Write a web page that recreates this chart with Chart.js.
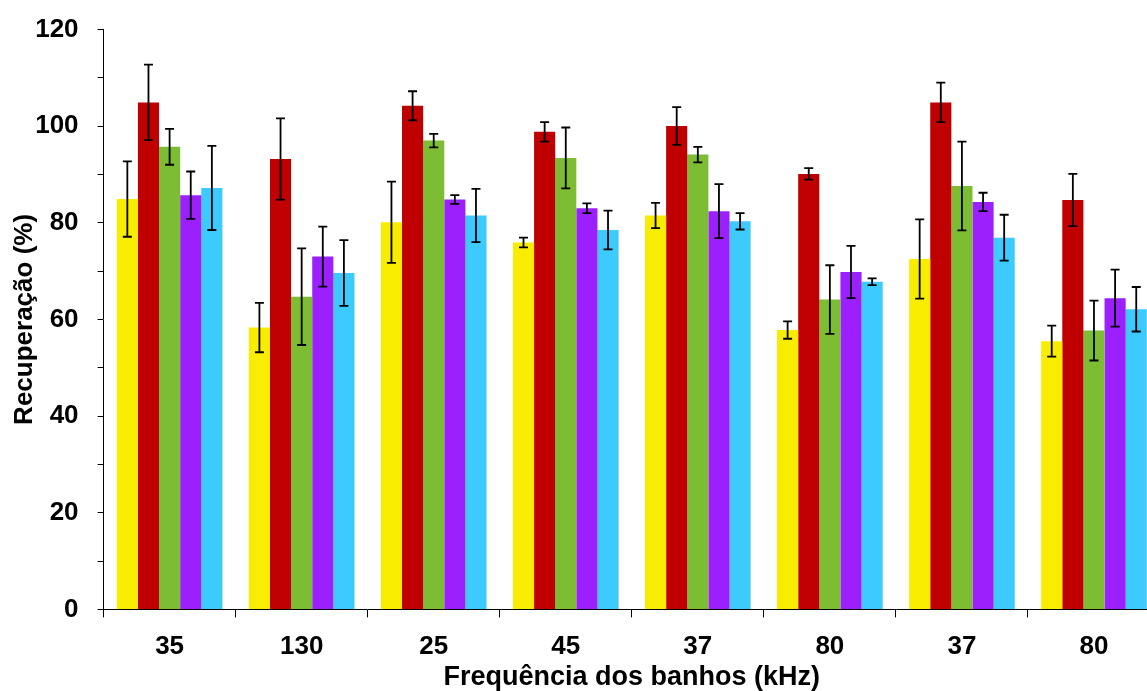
<!DOCTYPE html>
<html>
<head>
<meta charset="utf-8">
<script src="https://cdn.jsdelivr.net/npm/chart.js@4/dist/chart.umd.min.js"></script>
<style>
  html, body { margin: 0; padding: 0; overflow: hidden; background: #fff; }
  #wrap { position: absolute; left: 0; top: 0; width: 1162px; height: 691px; }
</style>
</head>
<body>
<div id="wrap"><canvas id="chart"></canvas></div>
<script>
// frequencies of the ultrasonic baths (x categories)
const categories = ['35', '130', '25', '45', '37', '80', '37', '80'];

// recovery (%) per series, with error bar half-widths
const serie1 = [84.9, 58.3, 80.1, 75.9, 81.5, 57.8, 72.5, 55.5];
const erro1 = [7.8, 5.1, 8.4, 1.0, 2.6, 1.8, 8.2, 3.2];
const serie2 = [104.9, 93.2, 104.2, 98.8, 100.0, 90.1, 104.9, 84.7];
const erro2 = [7.8, 8.4, 3.0, 2.0, 3.9, 1.2, 4.1, 5.4];
const serie3 = [95.7, 64.7, 97.0, 93.4, 94.1, 64.1, 87.6, 57.7];
const erro3 = [3.7, 10.0, 1.4, 6.3, 1.6, 7.1, 9.2, 6.2];
const serie4 = [85.7, 73.0, 84.8, 83.0, 82.4, 69.8, 84.3, 64.4];
const erro4 = [4.9, 6.2, 0.9, 1.0, 5.6, 5.4, 1.9, 5.9];
const serie5 = [87.2, 69.6, 81.5, 78.5, 80.3, 67.8, 76.9, 62.1];
const erro5 = [8.7, 6.8, 5.5, 4.0, 1.7, 0.7, 4.75, 4.6];

const yTicks = [0, 20, 40, 60, 80, 100, 120];

const colors = ['#f8ec00', '#c00000', '#7cbd33', '#9c1ffe', '#3dcbff'];
const series = [serie1, serie2, serie3, serie4, serie5];
const errors = [erro1, erro2, erro3, erro4, erro5];

// draw the black error bars on top of each bar
const errorBars = {
  id: 'errorBars',
  afterDatasetsDraw(chart) {
    const ctx = chart.ctx;
    const y = chart.scales.y;
    ctx.save();
    ctx.strokeStyle = '#000';
    ctx.lineWidth = 1.8;
    chart.data.datasets.forEach((ds, i) => {
      const meta = chart.getDatasetMeta(i);
      meta.data.forEach((bar, j) => {
        const v = ds.data[j];
        const e = ds.errors[j];
        const top = y.getPixelForValue(v + e);
        const bot = y.getPixelForValue(v - e);
        const x = bar.x;
        ctx.beginPath();
        ctx.moveTo(x, top); ctx.lineTo(x, bot);
        ctx.moveTo(x - 4.5, top); ctx.lineTo(x + 4.5, top);
        ctx.moveTo(x - 4.5, bot); ctx.lineTo(x + 4.5, bot);
        ctx.stroke();
      });
    });
    ctx.restore();
  }
};

const font = 'Liberation Sans, Arial, sans-serif';

new Chart(document.getElementById('chart'), {
  type: 'bar',
  data: {
    labels: categories,
    datasets: series.map((s, i) => ({
      label: 'Série ' + (i + 1),
      data: s,
      errors: errors[i],
      backgroundColor: colors[i],
      borderWidth: 0,
      barPercentage: 1.0,
      categoryPercentage: 0.8
    }))
  },
  options: {
    responsive: true,
    maintainAspectRatio: false,
    animation: false,
    layout: { padding: { top: 14, right: 2, left: 0, bottom: 0 } },
    plugins: {
      legend: { display: false },
      tooltip: { enabled: false }
    },
    scales: {
      x: {
        border: { color: '#000', width: 1 },
        grid: { offset: true, drawOnChartArea: false, tickLength: 8, color: '#000' },
        ticks: { color: '#000', padding: 14, font: { family: font, size: 26, weight: 'bold' } },
        title: {
          display: true,
          text: 'Frequência dos banhos (kHz)',
          color: '#000',
          padding: { top: -15, bottom: -3 },
          font: { family: font, size: 27, weight: 'bold' }
        }
      },
      y: {
        min: 0,
        max: 120,
        border: { color: '#000', width: 1 },
        grid: { drawOnChartArea: false, tickLength: 6, color: '#000' },
        ticks: {
          stepSize: 10,
          color: '#000',
          padding: 19,
          font: { family: font, size: 26, weight: 'bold', lineHeight: 0.8 },
          callback: v => yTicks.includes(v) ? v : ''
        },
        title: {
          display: true,
          text: 'Recuperação (%)',
          color: '#000',
          padding: { top: 9, bottom: -24 },
          font: { family: font, size: 26, weight: 'bold' }
        }
      }
    }
  },
  plugins: [errorBars]
});
</script>
</body>
</html>
